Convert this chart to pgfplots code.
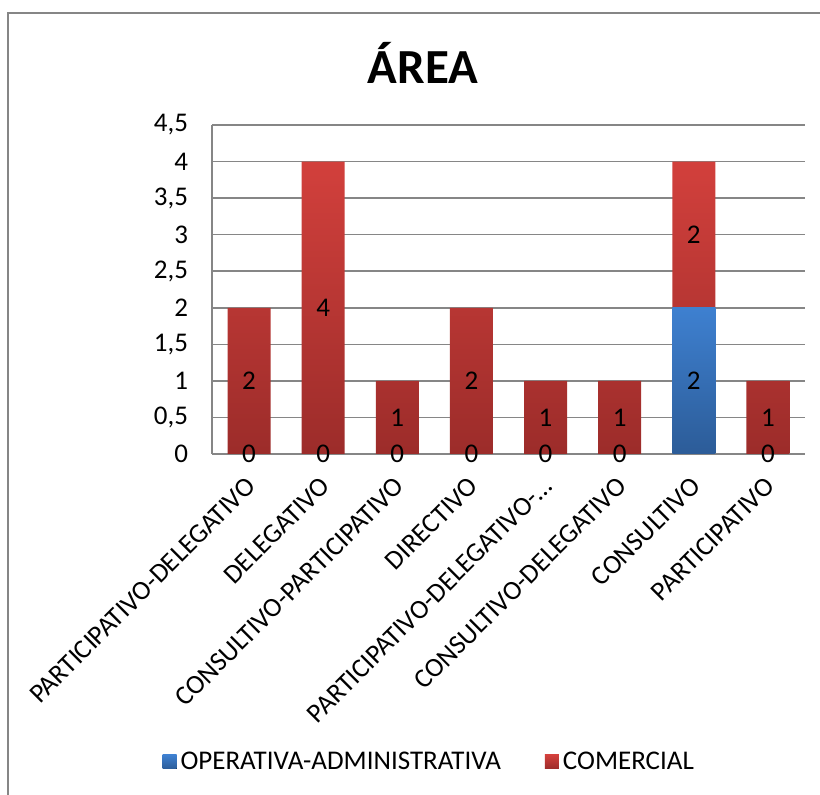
\documentclass[border=0pt]{standalone}
\usepackage{pgfplots}
\pgfplotsset{compat=1.18}
\usepackage{pgfplotstable}
\usepackage{fontspec}
\setmainfont{Carlito}
\definecolor{redtop}{RGB}{210,64,60}
\definecolor{redbot}{RGB}{156,44,42}
\definecolor{bluetop}{RGB}{62,128,208}
\definecolor{bluebot}{RGB}{44,92,152}
\definecolor{gridgray}{RGB}{134,134,134}

\pgfplotstableread{
x b r
0 0 2
1 0 4
2 0 1
3 0 2
4 0 1
5 0 1
6 2 2
7 0 1
}\datatable

\newcommand{\lblfont}{\fontsize{13.5}{16}\selectfont}

\begin{document}
\begin{tikzpicture}[x=1pt,y=1pt]
\useasboundingbox (0,0) rectangle (410,397.5);
\draw[gridgray, line width=0.8pt] (4,-5) rectangle (420,391);
\node[font=\fontsize{24.5}{30}\selectfont\bfseries] at (211.5,366) {ÁREA};
\begin{axis}[
  at={(106pt,170.5pt)}, anchor=south west,
  scale only axis, width=296.5pt, height=164.5pt,
  ybar stacked, bar width=21.5pt,
  xmin=-0.5, xmax=7.5, ymin=0, ymax=4.5,
  xtick={0,1,2,3,4,5,6,7},
  xticklabels={PARTICIPATIVO-DELEGATIVO, DELEGATIVO, CONSULTIVO-PARTICIPATIVO, DIRECTIVO, PARTICIPATIVO-DELEGATIVO-…, CONSULTIVO-DELEGATIVO, CONSULTIVO, PARTICIPATIVO},
  ytick={0,0.5,1,1.5,2,2.5,3,3.5,4,4.5},
  /pgf/number format/use comma,
  /pgf/number format/assume math mode=true,
  yticklabel style={font=\lblfont, xshift=-8.5pt},
  xticklabel style={font=\lblfont, rotate=45, anchor=north east, inner sep=1pt, xshift=-7.9pt, yshift=-4.9pt},
  major tick length=0pt,
  axis x line*=bottom, axis y line*=left,
  axis line style={gridgray, line width=0.75pt, -},
  ymajorgrids, grid style={gridgray, line width=0.75pt},
  legend columns=2,
  legend style={at={(0.368,-0.936)}, anchor=center, draw=none, font=\lblfont,
    /tikz/every even column/.append style={column sep=20pt}},
  legend image code/.code={\fill[#1] (0pt,-3.5pt) rectangle (7pt,3.5pt);},
]
\addplot[draw=none, top color=bluetop, bottom color=bluebot] table[x=x, y=b] {\datatable};
\addlegendentry{OPERATIVA-ADMINISTRATIVA}
\addplot[draw=none, top color=redtop, bottom color=redbot] table[x=x, y=r] {\datatable};
\addlegendentry{COMERCIAL}
\end{axis}
\begin{axis}[
  at={(106pt,170.5pt)}, anchor=south west,
  scale only axis, width=296.5pt, height=164.5pt,
  xmin=-0.5, xmax=7.5, ymin=0, ymax=4.5, hide axis, clip=false,
]
\addplot[draw=none, mark=none, nodes near coords, point meta=explicit symbolic,
  every node near coord/.append style={anchor=center, font=\lblfont, text=black}]
  table[x=x, y expr=\thisrow{b}/2, meta=b] {\datatable};
\addplot[draw=none, mark=none, nodes near coords, point meta=explicit symbolic,
  every node near coord/.append style={anchor=center, font=\lblfont, text=black}]
  table[x=x, y expr=\thisrow{b}+\thisrow{r}/2, meta=r] {\datatable};
\end{axis}
\end{tikzpicture}
\end{document}
